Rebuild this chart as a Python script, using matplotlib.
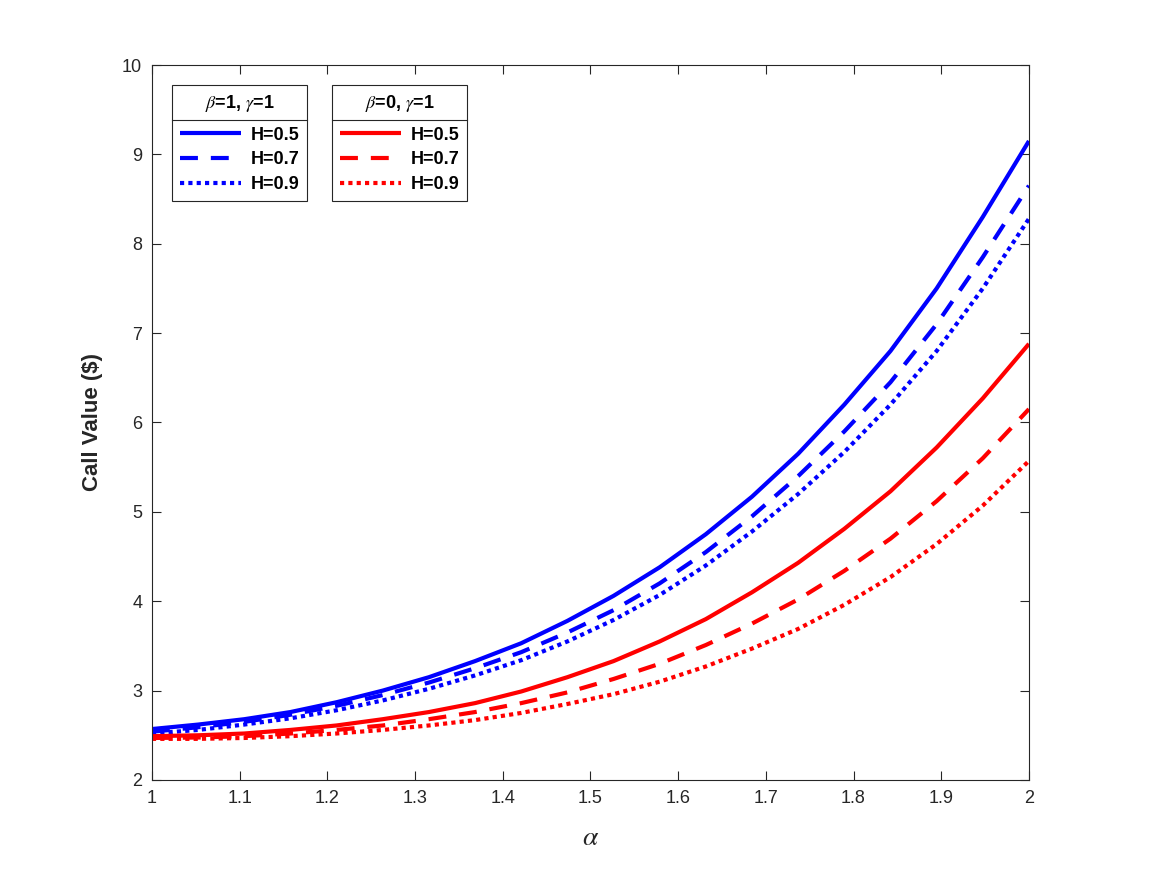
import matplotlib.pyplot as plt
import numpy as np
from matplotlib.lines import Line2D

plt.rcParams['font.family'] = ['Liberation Sans', 'DejaVu Sans']
plt.rcParams['mathtext.fontset'] = 'stix'

# alpha grid: 20 points from 1 to 2
alpha = np.linspace(1, 2, 20)

# beta=1, gamma=1
blue_h05 = [2.57, 2.62, 2.68, 2.76, 2.87, 3.00, 3.15, 3.33, 3.53, 3.78,
            4.06, 4.38, 4.75, 5.17, 5.65, 6.20, 6.80, 7.50, 8.30, 9.15]
blue_h07 = [2.54, 2.59, 2.65, 2.73, 2.83, 2.95, 3.09, 3.25, 3.43, 3.65,
            3.90, 4.20, 4.55, 4.95, 5.40, 5.90, 6.45, 7.10, 7.85, 8.65]
blue_h09 = [2.52, 2.56, 2.62, 2.69, 2.78, 2.89, 3.02, 3.17, 3.34, 3.55,
            3.79, 4.07, 4.40, 4.78, 5.20, 5.67, 6.20, 6.80, 7.50, 8.28]
# beta=0, gamma=1
red_h05 = [2.49, 2.50, 2.52, 2.56, 2.61, 2.68, 2.76, 2.86, 2.99, 3.15,
           3.33, 3.55, 3.80, 4.10, 4.43, 4.81, 5.23, 5.72, 6.27, 6.88]
red_h07 = [2.47, 2.475, 2.49, 2.52, 2.56, 2.61, 2.68, 2.76, 2.86, 2.98,
           3.13, 3.30, 3.51, 3.75, 4.02, 4.34, 4.70, 5.12, 5.60, 6.15]
red_h09 = [2.46, 2.46, 2.47, 2.49, 2.52, 2.56, 2.61, 2.67, 2.75, 2.85,
           2.96, 3.10, 3.27, 3.47, 3.69, 3.96, 4.27, 4.64, 5.07, 5.57]

h_labels = ['H=0.5', 'H=0.7', 'H=0.9']
styles = ['-', (0, (4.3, 3.1)), (0, (1, 1))]

axcol = (0.15, 0.15, 0.15)

fig = plt.figure(figsize=(11.67, 8.75), dpi=100)
ax = fig.add_axes([0.1302, 0.1086, 0.7515, 0.8171])

blue_lines = []
for y, ls in zip([blue_h05, blue_h07, blue_h09], styles):
    l, = ax.plot(alpha, y, color='#0000ff', lw=3, linestyle=ls,
                 dash_capstyle='butt', solid_capstyle='butt')
    blue_lines.append(l)
red_lines = []
for y, ls in zip([red_h05, red_h07, red_h09], styles):
    l, = ax.plot(alpha, y, color='#ff0000', lw=3, linestyle=ls,
                 dash_capstyle='butt', solid_capstyle='butt')
    red_lines.append(l)

ax.set_xlim(1, 2)
ax.set_ylim(2, 10)
ax.set_xticks(np.arange(1, 2.01, 0.1))
ax.set_xticklabels(['1', '1.1', '1.2', '1.3', '1.4', '1.5', '1.6', '1.7', '1.8', '1.9', '2'])
ax.set_yticks(np.arange(2, 11, 1))
ax.tick_params(direction='in', top=True, right=True, length=6.3, width=0.8,
               labelsize=13, colors=axcol, pad=7)
for s in ax.spines.values():
    s.set_color(axcol)
    s.set_linewidth(0.8)

ax.set_xlabel(r'$\alpha$', fontsize=20, color=axcol, labelpad=13)
ax.set_ylabel('Call Value ($)', fontsize=16, fontweight='bold', color=axcol, labelpad=14)

leg_kw = dict(loc='upper left', handlelength=3.4, handletextpad=0.5,
              labelspacing=0.42, borderpad=0.45, fancybox=False, framealpha=1,
              edgecolor=axcol, borderaxespad=0, alignment='center',
              prop={'weight': 'bold', 'size': 13})
leg1 = ax.legend(blue_lines, h_labels, bbox_to_anchor=(0.0228, 0.972),
                 title=r'$\beta$=1, $\gamma$=1', **leg_kw)
ax.add_artist(leg1)
leg2 = ax.legend(red_lines, h_labels, bbox_to_anchor=(0.2052, 0.972),
                 title=r'$\beta$=0, $\gamma$=1', **leg_kw)
for lg in (leg1, leg2):
    lg.get_title().set_fontweight('bold')
    lg.get_title().set_fontsize(13)
    lg.get_frame().set_linewidth(0.8)
    # room between title and entries
    lg._legend_box.sep = 9

# separator line under each legend title
fig.canvas.draw()
r = fig.canvas.get_renderer()
for lg in (leg1, leg2):
    fb = lg.get_frame().get_window_extent(r)
    tb = lg.get_title().get_window_extent(r)
    hb = lg._legend_handle_box.get_window_extent(r)
    ysep = (tb.y0 + hb.y1) / 2
    x0, x1 = fb.x0 / fig.bbox.width, fb.x1 / fig.bbox.width
    yy = ysep / fig.bbox.height
    fig.add_artist(Line2D([x0, x1], [yy, yy], color=axcol, lw=0.8))

fig.savefig('out.png', dpi=100)
